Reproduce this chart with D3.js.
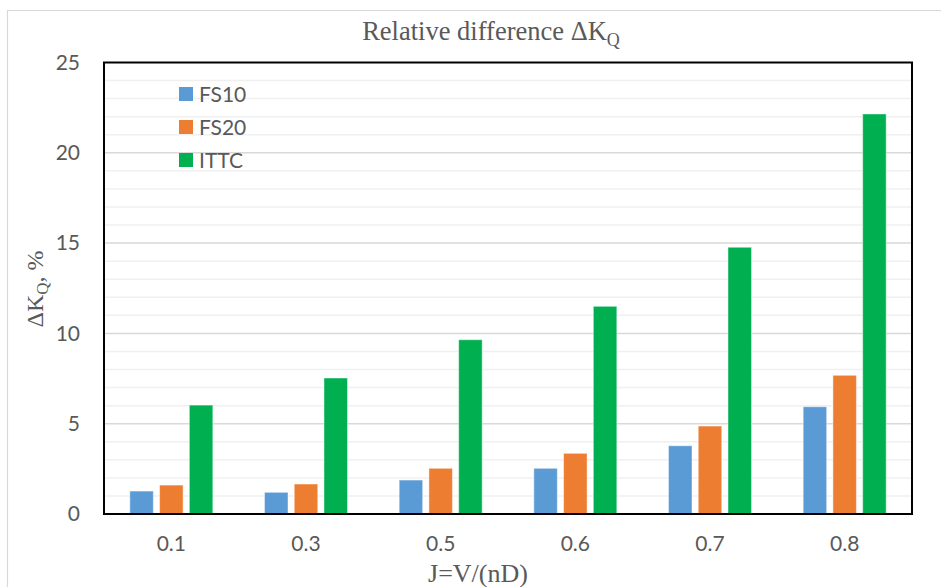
<!DOCTYPE html>
<html>
<head>
<meta charset="utf-8">
<script src="https://cdn.jsdelivr.net/npm/d3@7"></script>
<style>
  html, body { margin: 0; padding: 0; background: #fff; }
  svg { display: block; }
</style>
</head>
<body>
<svg id="chart" width="941" height="587"></svg>
<script>
// Advance ratio categories and relative KQ differences (%)
const categories = ["0.1", "0.3", "0.5", "0.6", "0.7", "0.8"];
const seriesNames = ["FS10", "FS20", "ITTC"];
const fs10 = [1.27, 1.2, 1.88, 2.53, 3.78, 5.94];
const fs20 = [1.6, 1.66, 2.53, 3.36, 4.87, 7.68];
const ittc = [6.03, 7.53, 9.65, 11.5, 14.77, 22.15];
const yTicks = [0, 5, 10, 15, 20, 25];
const colors = ["#5b9bd5", "#ed7d31", "#00b050"];

const seriesValues = [fs10, fs20, ittc];

const svg = d3.select("#chart");
const plot = { left: 104, right: 912, top: 62.5, bottom: 514 };

// outer chart border (light gray)
svg.append("path")
  .attr("d", "M7.5,587 L7.5,10.5 L941,10.5")
  .attr("fill", "none").attr("stroke", "#d9d9d9").attr("stroke-width", 1.2);

const x = d3.scaleBand().domain(categories).range([plot.left, plot.right]).padding(0);
const inner = d3.scaleBand().domain(seriesNames).range([-41.5, 41.5]).paddingInner(0.21).paddingOuter(0);
const y = d3.scaleLinear().domain([0, 25]).range([plot.bottom, plot.top]);

// gridlines: minor each unit, major each 5
const minor = d3.range(1, 25).filter(v => v % 5 !== 0);
svg.append("g").selectAll("line").data(minor).join("line")
  .attr("x1", plot.left).attr("x2", plot.right)
  .attr("y1", d => y(d)).attr("y2", d => y(d))
  .attr("stroke", "#f0f0f0").attr("stroke-width", 1.5);
svg.append("g").selectAll("line").data([5, 10, 15, 20]).join("line")
  .attr("x1", plot.left).attr("x2", plot.right)
  .attr("y1", d => y(d)).attr("y2", d => y(d))
  .attr("stroke", "#d9d9d9").attr("stroke-width", 1.5);

// bars
seriesNames.forEach((name, si) => {
  svg.append("g").selectAll("rect").data(seriesValues[si]).join("rect")
    .attr("x", (d, i) => x(categories[i]) + x.bandwidth() / 2 + inner(name))
    .attr("width", inner.bandwidth())
    .attr("y", d => y(d))
    .attr("height", d => y(0) - y(d))
    .attr("fill", colors[si])
    .attr("stroke", "rgba(255,255,255,0.45)")
    .attr("stroke-width", 1);
});

// plot frame
svg.append("rect")
  .attr("x", plot.left).attr("y", plot.top)
  .attr("width", plot.right - plot.left).attr("height", plot.bottom - plot.top)
  .attr("fill", "none").attr("stroke", "#000").attr("stroke-width", 2);

// y axis
const yAxis = d3.axisLeft(y).tickValues(yTicks).tickSize(0).tickPadding(24);
const gy = svg.append("g").attr("transform", `translate(${plot.left},0)`).call(yAxis);
gy.select(".domain").remove();
gy.selectAll("text")
  .attr("font-family", "Lato, 'Open Sans', sans-serif").attr("font-size", 21)
  .attr("fill", "#595959");

// x axis
const xAxis = d3.axisBottom(x).tickSize(0).tickPadding(22);
const gx = svg.append("g").attr("transform", `translate(0,${plot.bottom})`).call(xAxis);
gx.select(".domain").remove();
gx.selectAll("text")
  .attr("font-family", "Lato, 'Open Sans', sans-serif").attr("font-size", 21)
  .attr("fill", "#595959");

// legend
const legend = svg.append("g");
seriesNames.forEach((name, i) => {
  const cy = 94 + i * 33;
  legend.append("rect").attr("x", 179).attr("y", cy - 7).attr("width", 14).attr("height", 14)
    .attr("fill", colors[i]);
  legend.append("text").attr("x", 199).attr("y", cy).attr("dy", "0.36em")
    .attr("font-family", "Lato, 'Open Sans', sans-serif").attr("font-size", 21)
    .attr("fill", "#595959").text(name);
});

const serif = "'Liberation Serif', 'Times New Roman', serif";

// title
const title = svg.append("text").attr("x", 491).attr("y", 40)
  .attr("text-anchor", "middle").attr("font-family", serif).attr("font-size", 26.5)
  .attr("fill", "#595959");
title.append("tspan").text("Relative difference ΔK");
title.append("tspan").attr("dy", 6).attr("font-size", 18).text("Q");

// y axis title
const ytitle = svg.append("text")
  .attr("transform", "translate(43,289) rotate(-90)")
  .attr("text-anchor", "middle").attr("font-family", serif).attr("font-size", 24)
  .attr("fill", "#595959");
ytitle.append("tspan").text("ΔK");
ytitle.append("tspan").attr("dy", 5).attr("font-size", 17).text("Q");
ytitle.append("tspan").attr("dy", -5).text(", %");

// x axis title
svg.append("text").attr("x", 478).attr("y", 582)
  .attr("text-anchor", "middle").attr("font-family", serif).attr("font-size", 26)
  .attr("fill", "#595959").text("J=V/(nD)");
</script>
</body>
</html>
